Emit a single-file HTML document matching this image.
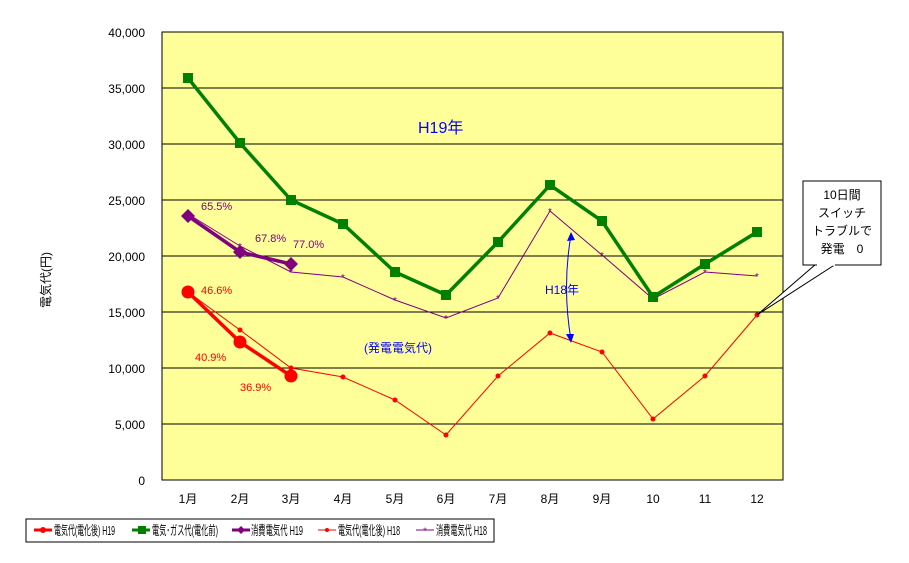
<!DOCTYPE html>
<html><head><meta charset="utf-8"><style>
body{margin:0;background:#fff;}
svg text{font-family:"Liberation Sans","Noto Sans CJK JP",sans-serif;}
</style></head><body>
<svg width="909" height="558" xmlns="http://www.w3.org/2000/svg">
<rect x="162" y="32" width="621" height="448" fill="#ffff99" stroke="#000" stroke-width="1"/>
<g stroke="#000" stroke-width="1">
<line x1="162" y1="88" x2="783" y2="88"/><line x1="162" y1="144" x2="783" y2="144"/>
<line x1="162" y1="200" x2="783" y2="200"/><line x1="162" y1="256" x2="783" y2="256"/>
<line x1="162" y1="312" x2="783" y2="312"/><line x1="162" y1="368" x2="783" y2="368"/>
<line x1="162" y1="424" x2="783" y2="424"/>
</g>
<g font-size="12" text-anchor="end" fill="#000">
<text x="145" y="37">40,000</text><text x="145" y="93">35,000</text><text x="145" y="149">30,000</text>
<text x="145" y="205">25,000</text><text x="145" y="261">20,000</text><text x="145" y="317">15,000</text>
<text x="145" y="373">10,000</text><text x="145" y="429">5,000</text><text x="145" y="485">0</text>
</g>
<text transform="translate(50,280) rotate(-90)" font-size="12" text-anchor="middle">電気代(円)</text>
<g font-size="12" text-anchor="middle">
<text x="188" y="503">1月</text><text x="240" y="503">2月</text><text x="291" y="503">3月</text>
<text x="343" y="503">4月</text><text x="395" y="503">5月</text><text x="446" y="503">6月</text>
<text x="498" y="503">7月</text><text x="550" y="503">8月</text><text x="602" y="503">9月</text>
<text x="653" y="503">10</text><text x="705" y="503">11</text><text x="757" y="503">12</text>
</g>
<polyline fill="none" stroke="#800080" stroke-width="1" points="188,214 240,246 291,272 343,277 395,300 446,318 498,298 550,211 602,255 653,299 705,272 757,276"/>
<g fill="#800080" font-size="10" text-anchor="middle">
<text x="188" y="218">*</text><text x="240" y="250">*</text><text x="291" y="276">*</text><text x="343" y="281">*</text><text x="395" y="304">*</text><text x="446" y="322">*</text><text x="498" y="302">*</text><text x="550" y="215">*</text><text x="602" y="259">*</text><text x="653" y="303">*</text><text x="705" y="276">*</text><text x="757" y="280">*</text>
</g>
<polyline fill="none" stroke="#ff0000" stroke-width="1" points="188,292 240,330 291,368 343,377 395,400 446,435 498,376 550,333 602,352 653,419 705,376 757,315"/>
<g fill="#ff0000">
<circle cx="240" cy="330" r="2.5"/><circle cx="291" cy="368" r="2.5"/><circle cx="343" cy="377" r="2.5"/><circle cx="395" cy="400" r="2.5"/><circle cx="446" cy="435" r="2.5"/><circle cx="498" cy="376" r="2.5"/><circle cx="550" cy="333" r="2.5"/><circle cx="602" cy="352" r="2.5"/><circle cx="653" cy="419" r="2.5"/><circle cx="705" cy="376" r="2.5"/><circle cx="757" cy="315" r="2.5"/>
</g>
<polyline fill="none" stroke="#008000" stroke-width="3.5" points="188,78 240,143 291,200 343,224 395,272 446,295 498,242 550,185 602,221 653,297 705,264 757,232"/>
<g fill="#008000">
<rect x="183" y="73" width="10" height="10"/><rect x="235" y="138" width="10" height="10"/><rect x="286" y="195" width="10" height="10"/><rect x="338" y="219" width="10" height="10"/><rect x="390" y="267" width="10" height="10"/><rect x="441" y="290" width="10" height="10"/><rect x="493" y="237" width="10" height="10"/><rect x="545" y="180" width="10" height="10"/><rect x="597" y="216" width="10" height="10"/><rect x="648" y="292" width="10" height="10"/><rect x="700" y="259" width="10" height="10"/><rect x="752" y="227" width="10" height="10"/>
</g>
<polyline fill="none" stroke="#800080" stroke-width="3.5" points="188,216 240,252 291,264"/>
<g fill="#800080">
<polygon points="188,209 195,216 188,223 181,216"/><polygon points="240,245 247,252 240,259 233,252"/><polygon points="291,257 298,264 291,271 284,264"/>
</g>
<polyline fill="none" stroke="#ff0000" stroke-width="3.5" points="188,292 240,342 291,376"/>
<g fill="#ff0000"><circle cx="188" cy="292" r="6.5"/><circle cx="240" cy="342" r="6.5"/><circle cx="291" cy="376" r="6.5"/></g>
<g font-size="11" fill="#800080"><text x="201" y="210">65.5%</text><text x="255" y="242">67.8%</text><text x="293" y="248">77.0%</text></g>
<g font-size="11" fill="#ff0000"><text x="201" y="294">46.6%</text><text x="195" y="361">40.9%</text><text x="240" y="391">36.9%</text></g>
<text x="418" y="133" font-size="16" fill="#0000ff">H19年</text>
<text x="545" y="294" font-size="12" fill="#0000ff">H18年</text>
<text x="364" y="352" font-size="12" fill="#0000ff">(発電電気代)</text>
<path d="M571,235 Q562,287 571,340" fill="none" stroke="#0000ff" stroke-width="1"/>
<polygon points="571,232 567,241 575,240" fill="#0000ff"/><polygon points="571,343 566,334 574,334" fill="#0000ff"/>
<polygon points="757,315 816,264 836,264" fill="#fff" stroke="#000" stroke-width="1"/>
<rect x="803" y="181" width="78" height="84" fill="#fff" stroke="#000"/>
<line x1="817" y1="265" x2="835" y2="265" stroke="#fff" stroke-width="1.5"/>
<g font-size="12" text-anchor="middle"><text x="842" y="199">10日間</text><text x="842" y="217">スイッチ</text><text x="842" y="235">トラブルで</text><text x="842" y="253">発電　0</text></g>
<rect x="26" y="519" width="468" height="23" fill="#fff" stroke="#000"/>
<g font-size="13">
<line x1="34" y1="530" x2="52" y2="530" stroke="#ff0000" stroke-width="3"/><circle cx="43" cy="530" r="3" fill="#ff0000"/><text x="54" y="535" textLength="61" lengthAdjust="spacingAndGlyphs">電気代(電化後) H19</text>
<line x1="132" y1="530" x2="150" y2="530" stroke="#008000" stroke-width="3"/><rect x="138" y="526" width="8" height="8" fill="#008000"/><text x="152" y="535" textLength="66" lengthAdjust="spacingAndGlyphs">電気･ガス代(電化前)</text>
<line x1="232" y1="530" x2="250" y2="530" stroke="#800080" stroke-width="3"/><polygon points="241,526 245,530 241,534 237,530" fill="#800080"/><text x="251" y="535" textLength="52" lengthAdjust="spacingAndGlyphs">消費電気代 H19</text>
<line x1="318" y1="530" x2="336" y2="530" stroke="#ff0000" stroke-width="1"/><circle cx="327" cy="530" r="2" fill="#ff0000"/><text x="338" y="535" textLength="62" lengthAdjust="spacingAndGlyphs">電気代(電化後) H18</text>
<line x1="416" y1="530" x2="434" y2="530" stroke="#800080" stroke-width="1"/><text x="425" y="534" fill="#800080" text-anchor="middle" font-size="9">*</text><text x="436" y="535" textLength="51" lengthAdjust="spacingAndGlyphs">消費電気代 H18</text>
</g>
</svg>
</body></html>
